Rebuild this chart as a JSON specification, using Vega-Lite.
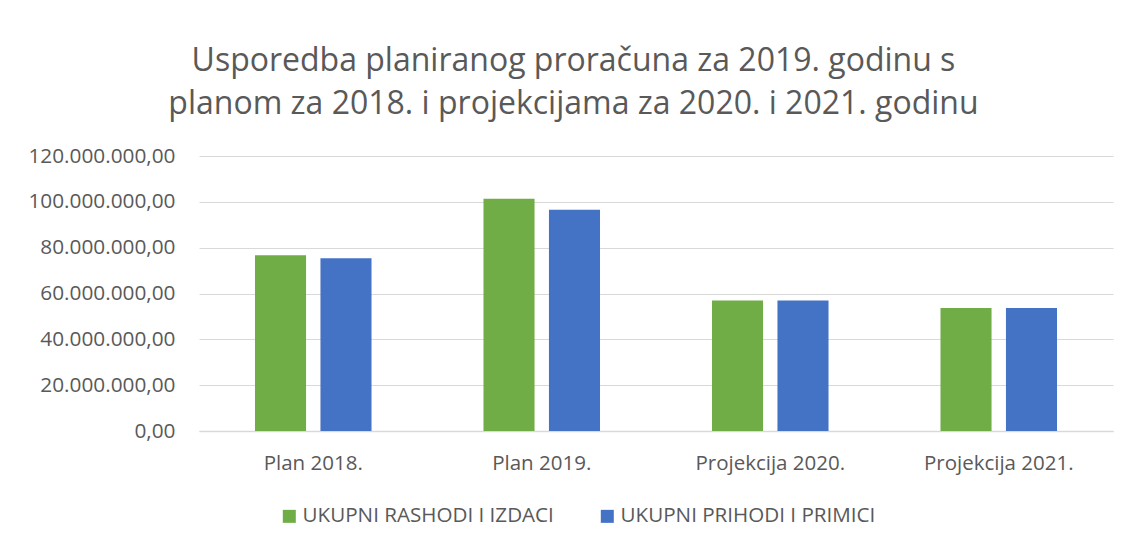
{
  "$schema": "https://vega.github.io/schema/vega-lite/v6.json",
  "width": 914,
  "height": 275,
  "autosize": {"type": "none"},
  "padding": {"left": 199, "top": 156, "right": 15, "bottom": 118},
  "background": "white",
  "title": {
    "text": ["Usporedba planiranog proračuna za 2019. godinu s", "planom za 2018. i projekcijama za 2020. i 2021. godinu"],
    "font": "Open Sans",
    "fontSize": 32,
    "fontWeight": "normal",
    "color": "#595959",
    "lineHeight": 43,
    "anchor": "middle",
    "frame": "bounds",
    "offset": 24,
    "dx": 3
  },
  "config": {
    "locale": {"number": {"decimal": ",", "thousands": ".", "grouping": [3], "currency": ["", ""]}},
    "view": {"stroke": null},
    "font": "Open Sans"
  },
  "data": {
    "values": [
      {"kategorija": "Plan 2018.", "serija": "UKUPNI RASHODI I IZDACI", "iznos": 76700000},
      {"kategorija": "Plan 2018.", "serija": "UKUPNI PRIHODI I PRIMICI", "iznos": 75400000},
      {"kategorija": "Plan 2019.", "serija": "UKUPNI RASHODI I IZDACI", "iznos": 101300000},
      {"kategorija": "Plan 2019.", "serija": "UKUPNI PRIHODI I PRIMICI", "iznos": 96600000},
      {"kategorija": "Projekcija 2020.", "serija": "UKUPNI RASHODI I IZDACI", "iznos": 57000000},
      {"kategorija": "Projekcija 2020.", "serija": "UKUPNI PRIHODI I PRIMICI", "iznos": 57000000},
      {"kategorija": "Projekcija 2021.", "serija": "UKUPNI RASHODI I IZDACI", "iznos": 53700000},
      {"kategorija": "Projekcija 2021.", "serija": "UKUPNI PRIHODI I PRIMICI", "iznos": 53700000}
    ]
  },
  "mark": {"type": "bar"},
  "encoding": {
    "x": {
      "field": "kategorija",
      "type": "nominal",
      "sort": null,
      "scale": {"paddingInner": 0.49, "paddingOuter": 0.245},
      "axis": {
        "title": null,
        "labelAngle": 0,
        "labelFont": "Open Sans",
        "labelFontSize": 20.5,
        "labelColor": "#595959",
        "labelPadding": 22,
        "ticks": false,
        "domainColor": "#D9D9D9",
        "domainWidth": 1.5
      }
    },
    "xOffset": {
      "field": "serija",
      "type": "nominal",
      "sort": ["UKUPNI RASHODI I IZDACI", "UKUPNI PRIHODI I PRIMICI"],
      "scale": {"paddingInner": 0.22, "paddingOuter": 0}
    },
    "y": {
      "field": "iznos",
      "type": "quantitative",
      "scale": {"domain": [0, 120000000]},
      "axis": {
        "title": null,
        "values": [0, 20000000, 40000000, 60000000, 80000000, 100000000, 120000000],
        "format": ",.2f",
        "labelFont": "Open Sans",
        "labelFontSize": 20.8,
        "labelColor": "#595959",
        "labelPadding": 24,
        "ticks": false,
        "domain": false,
        "gridColor": "#D9D9D9",
        "gridWidth": 1
      }
    },
    "color": {
      "field": "serija",
      "type": "nominal",
      "sort": ["UKUPNI RASHODI I IZDACI", "UKUPNI PRIHODI I PRIMICI"],
      "scale": {"domain": ["UKUPNI RASHODI I IZDACI", "UKUPNI PRIHODI I PRIMICI"], "range": ["#70AD47", "#4472C4"]},
      "legend": {
        "title": null,
        "orient": "none",
        "direction": "horizontal",
        "legendX": 80,
        "legendY": 350,
        "symbolType": "square",
        "symbolSize": 169,
        "symbolStrokeWidth": 0,
        "labelFont": "Open Sans",
        "labelFontSize": 20.6,
        "labelColor": "#595959",
        "labelOffset": 3,
        "columnPadding": 43,
        "labelLimit": 400
      }
    }
  }
}
